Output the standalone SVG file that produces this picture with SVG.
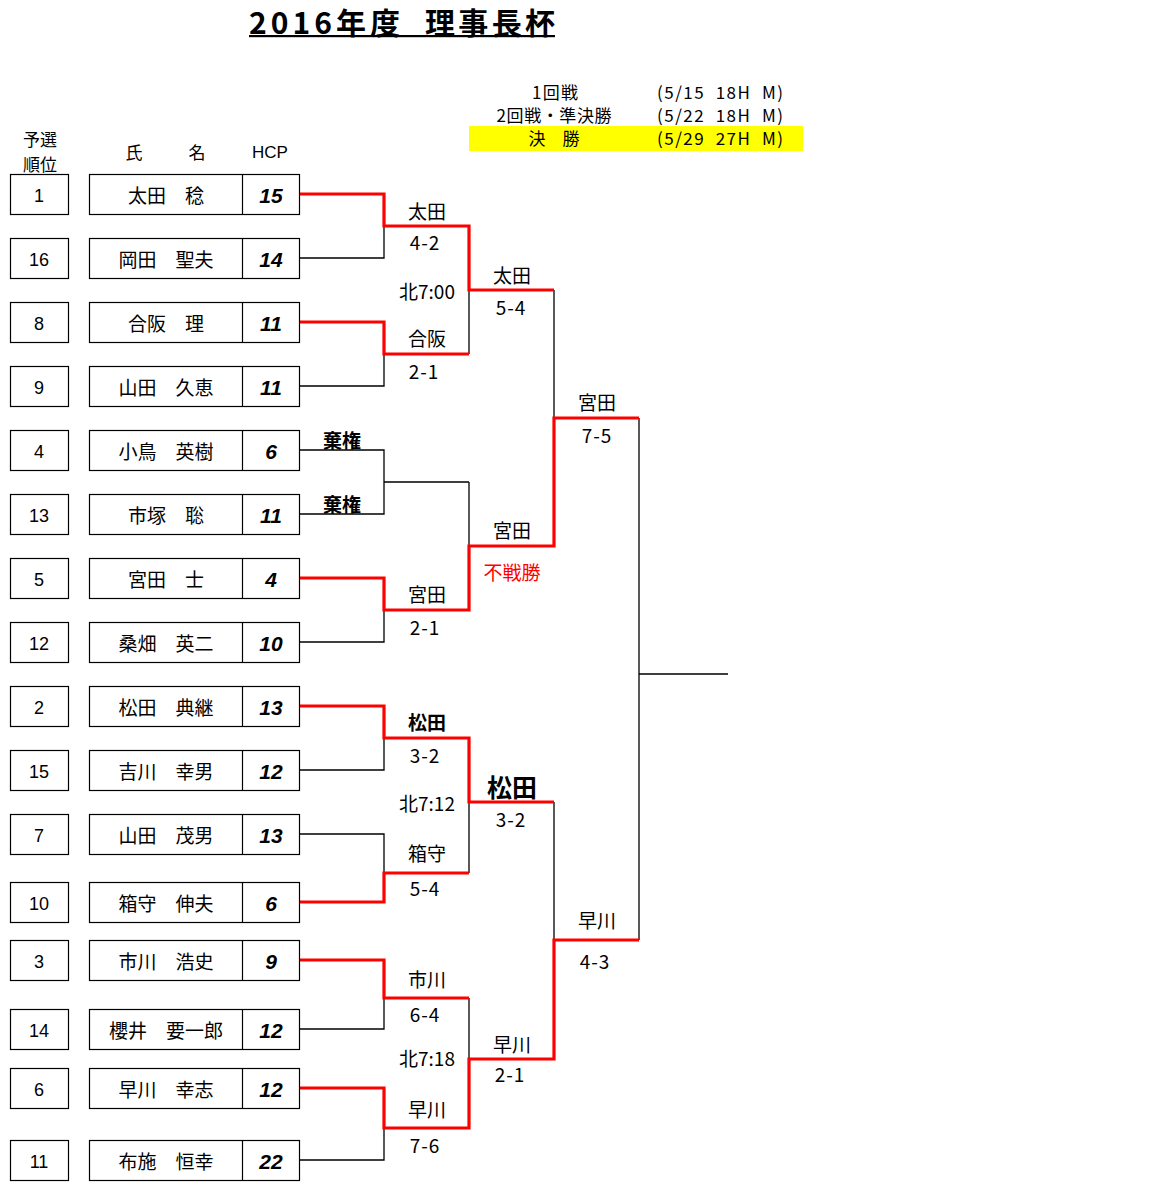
<svg xmlns="http://www.w3.org/2000/svg" width="1152" height="1197" viewBox="0 0 1152 1197">
<style>
text{font-family:"Noto Sans CJK JP","Liberation Sans",sans-serif;fill:#000;dominant-baseline:central;text-anchor:middle}
.box{fill:#fff;stroke:#000;stroke-width:1.2}
.rk{font-family:"Liberation Sans","Noto Sans CJK JP",sans-serif;font-size:18px}
.nm{font-size:19px}
.hc{font-family:"Liberation Sans","Noto Sans CJK JP",sans-serif;font-size:21px;font-style:italic;font-weight:bold}
.hd{font-size:17px}
.lb{font-size:19px}
.sc{font-size:19px;letter-spacing:1px}
.sch{font-size:17px}
.bl{fill:none;stroke:#000;stroke-width:1.3}
.rd{fill:none;stroke:#ff0000;stroke-width:3.2;stroke-linejoin:miter}
</style>

<g id="title">
<text x="249" y="21" style="text-anchor:start;font-size:30px;font-weight:bold" textLength="151" lengthAdjust="spacing">2016年度</text>
<text x="425" y="21" style="text-anchor:start;font-size:30px;font-weight:bold" textLength="130" lengthAdjust="spacing">理事長杯</text>
<rect x="249" y="35" width="306" height="2.2" fill="#000"/>
</g>

<g id="schedule">
<rect x="469" y="126" width="334" height="25" fill="#ffff00"/>
<text class="sch" x="555" y="91" textLength="46" lengthAdjust="spacing">1回戦</text>
<text class="sch" x="657" y="91" style="text-anchor:start" textLength="126" lengthAdjust="spacing" xml:space="preserve">(5/15  18H  M)</text>
<text class="sch" x="554" y="114" textLength="115" lengthAdjust="spacing">2回戦・準決勝</text>
<text class="sch" x="657" y="114" style="text-anchor:start" textLength="126" lengthAdjust="spacing" xml:space="preserve">(5/22  18H  M)</text>
<text class="sch" x="554" y="137">決　勝</text>
<text class="sch" x="657" y="137" style="text-anchor:start" textLength="126" lengthAdjust="spacing" xml:space="preserve">(5/29  27H  M)</text>
</g>

<g id="headers">
<text class="hd" x="40" y="138">予選</text>
<text class="hd" x="40" y="163">順位</text>
<text class="hd" x="134" y="151">氏</text>
<text class="hd" x="197" y="151">名</text>
<text class="hd" x="270" y="152" style="font-family:'Liberation Sans',sans-serif">HCP</text>
</g>

<g id="connectors">
<path class="bl" d="M299,194H384V258H299M384,226H469 M299,322H384V386H299M384,354H469 M299,450H384V514H299M384,482H469 M299,578H384V642H299M384,610H469 M299,706H384V770H299M384,738H469 M299,834H384V902H299M384,873H469 M299,960H384V1029H299M384,998H469 M299,1088H384V1160H299M384,1128H469"/>
<path class="bl" d="M469,226V354M469,290H554 M469,482V610M469,546H554 M469,738V873M469,802H554 M469,998V1128M469,1059H554"/>
<path class="bl" d="M554,290V546M554,418H639 M554,802V1059M554,940H639"/>
<path class="bl" d="M639,418V940M639,674H728"/>
<path class="rd" d="M299,194H384V226H469V290H554"/>
<path class="rd" d="M299,322H384V354H469"/>
<path class="rd" d="M299,578H384V610H469V546H554V418H639"/>
<path class="rd" d="M299,706H384V738H469V802H554"/>
<path class="rd" d="M299,902H384V873H469"/>
<path class="rd" d="M299,960H384V998H469"/>
<path class="rd" d="M299,1088H384V1128H469V1059H554V940H639"/>
</g>

<g id="p1"><rect class="box" x="10.5" y="174.5" width="58" height="40"/><rect class="box" x="89.5" y="174.5" width="210" height="40"/><line x1="242.5" y1="174.5" x2="242.5" y2="214.5" stroke="#000" stroke-width="1.2"/><text class="rk" x="39" y="196">1</text><text class="nm" x="166" y="194">太田　稔</text><text class="hc" x="271" y="195">15</text></g>
<g id="p16"><rect class="box" x="10.5" y="238.5" width="58" height="40"/><rect class="box" x="89.5" y="238.5" width="210" height="40"/><line x1="242.5" y1="238.5" x2="242.5" y2="278.5" stroke="#000" stroke-width="1.2"/><text class="rk" x="39" y="260">16</text><text class="nm" x="166" y="258">岡田　聖夫</text><text class="hc" x="271" y="259">14</text></g>
<g id="p8"><rect class="box" x="10.5" y="302.5" width="58" height="40"/><rect class="box" x="89.5" y="302.5" width="210" height="40"/><line x1="242.5" y1="302.5" x2="242.5" y2="342.5" stroke="#000" stroke-width="1.2"/><text class="rk" x="39" y="324">8</text><text class="nm" x="166" y="322">合阪　理</text><text class="hc" x="271" y="323">11</text></g>
<g id="p9"><rect class="box" x="10.5" y="366.5" width="58" height="40"/><rect class="box" x="89.5" y="366.5" width="210" height="40"/><line x1="242.5" y1="366.5" x2="242.5" y2="406.5" stroke="#000" stroke-width="1.2"/><text class="rk" x="39" y="388">9</text><text class="nm" x="166" y="386">山田　久恵</text><text class="hc" x="271" y="387">11</text></g>
<g id="p4"><rect class="box" x="10.5" y="430.5" width="58" height="40"/><rect class="box" x="89.5" y="430.5" width="210" height="40"/><line x1="242.5" y1="430.5" x2="242.5" y2="470.5" stroke="#000" stroke-width="1.2"/><text class="rk" x="39" y="452">4</text><text class="nm" x="166" y="450">小鳥　英樹</text><text class="hc" x="271" y="451">6</text></g>
<g id="p13"><rect class="box" x="10.5" y="494.5" width="58" height="40"/><rect class="box" x="89.5" y="494.5" width="210" height="40"/><line x1="242.5" y1="494.5" x2="242.5" y2="534.5" stroke="#000" stroke-width="1.2"/><text class="rk" x="39" y="516">13</text><text class="nm" x="166" y="514">市塚　聡</text><text class="hc" x="271" y="515">11</text></g>
<g id="p5"><rect class="box" x="10.5" y="558.5" width="58" height="40"/><rect class="box" x="89.5" y="558.5" width="210" height="40"/><line x1="242.5" y1="558.5" x2="242.5" y2="598.5" stroke="#000" stroke-width="1.2"/><text class="rk" x="39" y="580">5</text><text class="nm" x="166" y="578">宮田　士</text><text class="hc" x="271" y="579">4</text></g>
<g id="p12"><rect class="box" x="10.5" y="622.5" width="58" height="40"/><rect class="box" x="89.5" y="622.5" width="210" height="40"/><line x1="242.5" y1="622.5" x2="242.5" y2="662.5" stroke="#000" stroke-width="1.2"/><text class="rk" x="39" y="644">12</text><text class="nm" x="166" y="642">桑畑　英二</text><text class="hc" x="271" y="643">10</text></g>
<g id="p2"><rect class="box" x="10.5" y="686.5" width="58" height="40"/><rect class="box" x="89.5" y="686.5" width="210" height="40"/><line x1="242.5" y1="686.5" x2="242.5" y2="726.5" stroke="#000" stroke-width="1.2"/><text class="rk" x="39" y="708">2</text><text class="nm" x="166" y="706">松田　典継</text><text class="hc" x="271" y="707">13</text></g>
<g id="p15"><rect class="box" x="10.5" y="750.5" width="58" height="40"/><rect class="box" x="89.5" y="750.5" width="210" height="40"/><line x1="242.5" y1="750.5" x2="242.5" y2="790.5" stroke="#000" stroke-width="1.2"/><text class="rk" x="39" y="772">15</text><text class="nm" x="166" y="770">吉川　幸男</text><text class="hc" x="271" y="771">12</text></g>
<g id="p7"><rect class="box" x="10.5" y="814.5" width="58" height="40"/><rect class="box" x="89.5" y="814.5" width="210" height="40"/><line x1="242.5" y1="814.5" x2="242.5" y2="854.5" stroke="#000" stroke-width="1.2"/><text class="rk" x="39" y="836">7</text><text class="nm" x="166" y="834">山田　茂男</text><text class="hc" x="271" y="835">13</text></g>
<g id="p10"><rect class="box" x="10.5" y="882.5" width="58" height="40"/><rect class="box" x="89.5" y="882.5" width="210" height="40"/><line x1="242.5" y1="882.5" x2="242.5" y2="922.5" stroke="#000" stroke-width="1.2"/><text class="rk" x="39" y="904">10</text><text class="nm" x="166" y="902">箱守　伸夫</text><text class="hc" x="271" y="903">6</text></g>
<g id="p3"><rect class="box" x="10.5" y="940.5" width="58" height="40"/><rect class="box" x="89.5" y="940.5" width="210" height="40"/><line x1="242.5" y1="940.5" x2="242.5" y2="980.5" stroke="#000" stroke-width="1.2"/><text class="rk" x="39" y="962">3</text><text class="nm" x="166" y="960">市川　浩史</text><text class="hc" x="271" y="961">9</text></g>
<g id="p14"><rect class="box" x="10.5" y="1009.5" width="58" height="40"/><rect class="box" x="89.5" y="1009.5" width="210" height="40"/><line x1="242.5" y1="1009.5" x2="242.5" y2="1049.5" stroke="#000" stroke-width="1.2"/><text class="rk" x="39" y="1031">14</text><text class="nm" x="166" y="1029">櫻井　要一郎</text><text class="hc" x="271" y="1030">12</text></g>
<g id="p6"><rect class="box" x="10.5" y="1068.5" width="58" height="40"/><rect class="box" x="89.5" y="1068.5" width="210" height="40"/><line x1="242.5" y1="1068.5" x2="242.5" y2="1108.5" stroke="#000" stroke-width="1.2"/><text class="rk" x="39" y="1090">6</text><text class="nm" x="166" y="1088">早川　幸志</text><text class="hc" x="271" y="1089">12</text></g>
<g id="p11"><rect class="box" x="10.5" y="1140.5" width="58" height="40"/><rect class="box" x="89.5" y="1140.5" width="210" height="40"/><line x1="242.5" y1="1140.5" x2="242.5" y2="1180.5" stroke="#000" stroke-width="1.2"/><text class="rk" x="39" y="1162">11</text><text class="nm" x="166" y="1160">布施　恒幸</text><text class="hc" x="271" y="1161">22</text></g>

<g id="labels" transform="translate(0,-1.5)">
<text class="lb" x="427" y="212">太田</text>
<text class="sc" x="425" y="243">4-2</text>
<text class="lb" x="427" y="292">北7:00</text>
<text class="lb" x="427" y="339">合阪</text>
<text class="sc" x="424" y="372">2-1</text>
<text class="lb" x="512" y="276">太田</text>
<text class="sc" x="511" y="308">5-4</text>
<text class="lb" x="597" y="403">宮田</text>
<text class="sc" x="597" y="436">7-5</text>
<text class="lb" x="342" y="441" style="font-weight:bold">棄権</text>
<text class="lb" x="342" y="505" style="font-weight:bold">棄権</text>
<text class="lb" x="512" y="531">宮田</text>
<text class="lb" x="512" y="573" style="fill:#ff0000">不戦勝</text>
<text class="lb" x="427" y="595">宮田</text>
<text class="sc" x="425" y="628">2-1</text>
<text class="lb" x="427" y="723" style="font-weight:bold">松田</text>
<text class="sc" x="425" y="756">3-2</text>
<text class="lb" x="427" y="804">北7:12</text>
<text x="512" y="787" style="font-size:25px;font-weight:bold">松田</text>
<text class="sc" x="511" y="820">3-2</text>
<text class="lb" x="427" y="854">箱守</text>
<text class="sc" x="425" y="889">5-4</text>
<text class="lb" x="597" y="921">早川</text>
<text class="sc" x="595" y="962">4-3</text>
<text class="lb" x="427" y="980">市川</text>
<text class="sc" x="425" y="1015">6-4</text>
<text class="lb" x="427" y="1059">北7:18</text>
<text class="lb" x="512" y="1045">早川</text>
<text class="sc" x="510" y="1075">2-1</text>
<text class="lb" x="427" y="1110">早川</text>
<text class="sc" x="425" y="1146">7-6</text>
</g>
</svg>
